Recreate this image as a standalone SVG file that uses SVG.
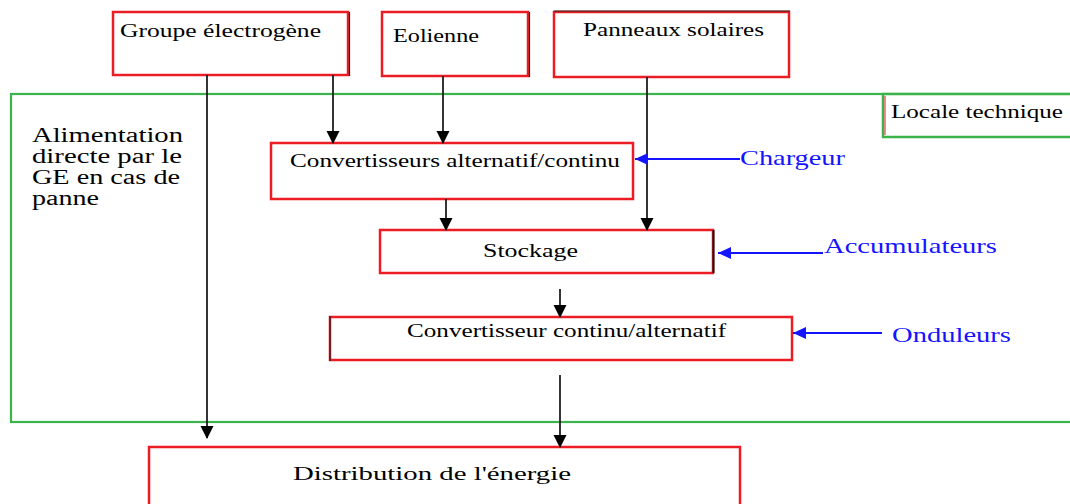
<svg xmlns="http://www.w3.org/2000/svg" width="1070" height="504" viewBox="0 0 1070 504">
  <style>
    .box { fill: #ffffff; stroke: #ec1c24; stroke-width: 2.5; }
    .shadow { fill: none; stroke: #222222; stroke-width: 1.2; }
    .frame { fill: none; stroke: #3cb44b; stroke-width: 2.2; }
    .lbl { font-family: "Liberation Serif", "Times New Roman", serif; font-size: 18px; fill: #000000; }
    .side { font-family: "Liberation Serif", "Times New Roman", serif; font-size: 20.5px; fill: #000000; }
    .blue { font-family: "Liberation Serif", "Times New Roman", serif; font-size: 21px; fill: #1414ff; }
    .wire { fill: none; stroke: #111111; stroke-width: 1.7; }
    .bwire { fill: none; stroke: #1414ff; stroke-width: 2.2; }
  </style>
  <defs>
    <marker id="ah" markerWidth="13" markerHeight="14" refX="12" refY="6.5" orient="auto" markerUnits="userSpaceOnUse">
      <path d="M0,0 L13,6.5 L0,13 Z" fill="#000000"/>
    </marker>
    <marker id="bh" markerWidth="14" markerHeight="14" refX="13" refY="6" orient="auto" markerUnits="userSpaceOnUse">
      <path d="M0,0 L13,6 L0,12 Z" fill="#1414ff"/>
    </marker>
  </defs>

  <rect width="1070" height="504" fill="#ffffff"/>

  <!-- technical room frame (runs off the right edge) -->
  <g id="local-technique-frame">
    <rect class="frame" x="11" y="94" width="1080" height="328"/>
  </g>
  <g id="locale-technique">
    <rect x="883" y="94" width="200" height="43" fill="#ffffff" stroke="#3cb44b" stroke-width="2.5"/>
    <line x1="885" y1="96" x2="885" y2="135" stroke="#ec1c24" stroke-width="1"/>
    <text class="lbl" x="891" y="118" textLength="172" lengthAdjust="spacingAndGlyphs">Locale technique</text>
  </g>

  <g id="alimentation-directe">
    <text class="side" x="32" y="142" textLength="151" lengthAdjust="spacingAndGlyphs">Alimentation</text>
    <text class="side" x="32" y="163" textLength="150" lengthAdjust="spacingAndGlyphs">directe par le</text>
    <text class="side" x="32" y="184" textLength="148" lengthAdjust="spacingAndGlyphs">GE en cas de</text>
    <text class="side" x="32" y="205" textLength="67" lengthAdjust="spacingAndGlyphs">panne</text>
  </g>

  <!-- sources -->
  <g id="groupe-electrogene">
    <rect class="box" x="113" y="12" width="235" height="63"/>
    <line class="shadow" x1="349.5" y1="12" x2="349.5" y2="76"/>
    <text class="lbl" x="120" y="37" textLength="201" lengthAdjust="spacingAndGlyphs">Groupe électrogène</text>
  </g>
  <g id="eolienne">
    <rect class="box" x="382" y="12" width="146" height="64"/>
    <line class="shadow" x1="529.5" y1="12" x2="529.5" y2="77"/>
    <text class="lbl" x="393" y="42" textLength="86" lengthAdjust="spacingAndGlyphs">Eolienne</text>
  </g>
  <g id="panneaux-solaires">
    <rect class="box" x="554" y="12" width="235" height="65"/>
    <line class="shadow" x1="554" y1="11" x2="790" y2="11"/>
    <text class="lbl" x="583" y="36" textLength="181" lengthAdjust="spacingAndGlyphs">Panneaux solaires</text>
  </g>

  <!-- conversion chain -->
  <g id="convertisseurs-ac-dc">
    <rect class="box" x="271" y="143" width="362" height="56"/>
    <text class="lbl" x="290" y="167" textLength="330" lengthAdjust="spacingAndGlyphs">Convertisseurs alternatif/continu</text>
  </g>
  <g id="stockage">
    <rect class="box" x="380" y="230" width="333" height="43"/>
    <line x1="713.5" y1="230" x2="713.5" y2="273" stroke="#111111" stroke-width="2"/>
    <text class="lbl" x="483" y="257" textLength="95" lengthAdjust="spacingAndGlyphs">Stockage</text>
  </g>
  <g id="convertisseur-dc-ac">
    <rect class="box" x="330" y="317" width="462" height="43"/>
    <line class="shadow" x1="330" y1="316" x2="330" y2="361"/>
    <text class="lbl" x="407" y="337" textLength="319" lengthAdjust="spacingAndGlyphs">Convertisseur continu/alternatif</text>
  </g>
  <g id="distribution">
    <rect class="box" x="149" y="447" width="591" height="70"/>
    <text class="lbl" x="293" y="480" textLength="278" lengthAdjust="spacingAndGlyphs">Distribution de l'énergie</text>
  </g>

  <!-- equipment labels -->
  <g id="chargeur">
    <text class="blue" x="740" y="165" textLength="105" lengthAdjust="spacingAndGlyphs">Chargeur</text>
  </g>
  <g id="accumulateurs">
    <text class="blue" x="824" y="253" textLength="173" lengthAdjust="spacingAndGlyphs">Accumulateurs</text>
  </g>
  <g id="onduleurs">
    <text class="blue" x="892" y="342" textLength="119" lengthAdjust="spacingAndGlyphs">Onduleurs</text>
  </g>

  <g id="connectors">
    <!-- direct feed from the generator -->
    <line class="wire" x1="207" y1="75" x2="207" y2="438" marker-end="url(#ah)"/>
    <!-- sources into the AC/DC converter -->
    <line class="wire" x1="333" y1="75" x2="333" y2="143" marker-end="url(#ah)"/>
    <line class="wire" x1="443" y1="76" x2="443" y2="143" marker-end="url(#ah)"/>
    <!-- solar panels straight to storage -->
    <line class="wire" x1="647" y1="77" x2="647" y2="230" marker-end="url(#ah)"/>
    <!-- converter to storage -->
    <line class="wire" x1="446" y1="199" x2="446" y2="230" marker-end="url(#ah)"/>
    <!-- storage to DC/AC converter -->
    <line class="wire" x1="560" y1="289" x2="560" y2="317" marker-end="url(#ah)"/>
    <!-- DC/AC converter to distribution -->
    <line class="wire" x1="560" y1="375" x2="560" y2="447" marker-end="url(#ah)"/>
    <!-- equipment pointers -->
    <line class="bwire" x1="740" y1="159" x2="635" y2="159" marker-end="url(#bh)"/>
    <line class="bwire" x1="823" y1="253" x2="718" y2="253" marker-end="url(#bh)"/>
    <line class="bwire" x1="882" y1="333" x2="793" y2="333" marker-end="url(#bh)"/>
  </g>
</svg>
